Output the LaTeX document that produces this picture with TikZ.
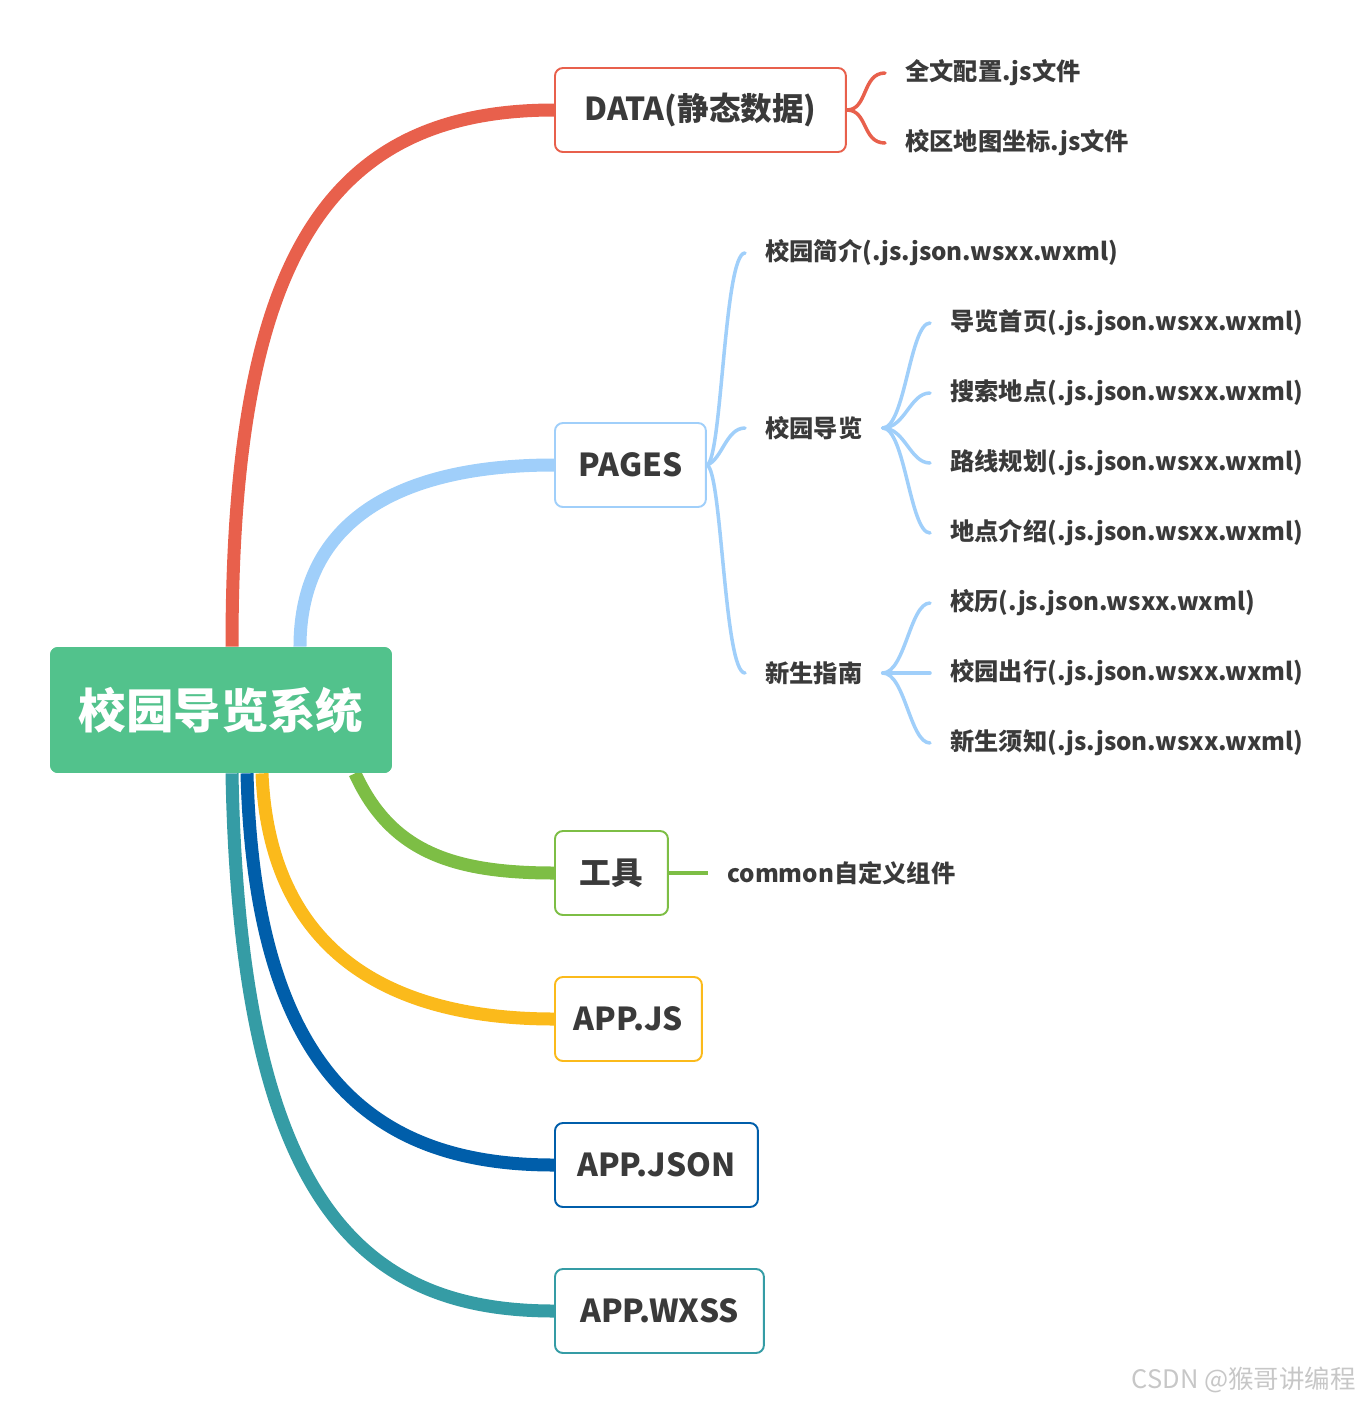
\documentclass[tikz,border=0pt]{standalone}
\usepackage{fontspec}
\setmainfont{Noto Sans CJK SC}
\usetikzlibrary{positioning}
\definecolor{rootg}{RGB}{82,194,140}
\definecolor{redc}{RGB}{232,96,76}
\definecolor{bluel}{RGB}{160,207,250}
\definecolor{greenc}{RGB}{125,190,69}
\definecolor{yellowc}{RGB}{251,186,27}
\definecolor{blued}{RGB}{0,94,170}
\definecolor{tealc}{RGB}{53,156,165}
\definecolor{txt}{RGB}{58,58,58}
\tikzset{
  rootbox/.style={fill=rootg, rounded corners=4.5pt, minimum width=6.84cm, minimum height=2.52cm,
    text=white, font=\fontsize{27}{29}\selectfont\bfseries},
  box/.style={draw, line width=1.1pt, rounded corners=4.5pt, fill=white, minimum height=1.68cm,
    anchor=west, text=txt, font=\fontsize{18}{20}\selectfont\bfseries},
  leaf/.style={anchor=west, inner xsep=0.4cm, inner ysep=2pt, text=txt,
    font=\fontsize{13.8}{16}\selectfont\bfseries},
  trunk/.style={line width=7.4pt},
  twig/.style={line width=2pt, line cap=round},
}
\begin{document}
\begin{tikzpicture}[x=0.02cm,y=-0.02cm]
\useasboundingbox (0,0) rectangle (1363,1403);
%% boxes
\node[rootbox] (root) at (221,710) {};
\node[box, draw=redc, minimum width=5.82cm] (data) at (554,110) {DATA(静态数据)};
\node[box, draw=bluel, minimum width=3.02cm] (pages) at (554,465) {PAGES};
\node[box, draw=greenc, minimum width=2.26cm] (tool) at (554,873) {工具};
\node[box, draw=yellowc, minimum width=2.94cm] (appjs) at (554,1019) {APP.JS};
\node[box, draw=blued, minimum width=4.06cm] (appjson) at (554,1165) {APP.JSON};
\node[box, draw=tealc, minimum width=4.18cm] (appwxss) at (554,1311) {APP.WXSS};
%% main branches
\draw[trunk, redc] ([xshift=0.22cm]root.north) .. controls (232,270) and (320,110) .. (data.west);
\draw[trunk, bluel] ([xshift=1.58cm]root.north) .. controls (300,520) and (400,465) .. (pages.west);
\draw[trunk, greenc] ([xshift=2.68cm]root.south) .. controls (390,850) and (450,873) .. (tool.west);
\draw[trunk, yellowc] ([xshift=0.82cm]root.south) .. controls (270,960) and (400,1019) .. (appjs.west);
\draw[trunk, blued] ([xshift=0.52cm]root.south) .. controls (255,1080) and (380,1165) .. (appjson.west);
\draw[trunk, tealc] ([xshift=0.22cm]root.south) .. controls (240,1200) and (360,1311) .. (appwxss.west);
\node[rootbox] at (root) {校园导览系统};
%% DATA
\node[leaf] (cfg) at (885,73) {全文配置.js文件};
\node[leaf] (map) at (885,143) {校区地图坐标.js文件};
\draw[twig, redc] (data.east) .. controls (868,110) and (862,73) .. (cfg.west);
\draw[twig, redc] (data.east) .. controls (868,110) and (862,143) .. (map.west);
%% PAGES
\node[leaf] (intro) at (745,253) {校园简介(.js.json.wsxx.wxml)};
\node[leaf] (nav) at (745,428) {校园导览};
\node[leaf] (guide) at (745,673) {新生指南};
\draw[twig, bluel] (pages.east) .. controls (722,460) and (724,253) .. (intro.west);
\draw[twig, bluel] (pages.east) .. controls (722,460) and (726,428) .. (nav.west);
\draw[twig, bluel] (pages.east) .. controls (722,470) and (724,673) .. (guide.west);
\node[leaf] (home) at (930,323) {导览首页(.js.json.wsxx.wxml)};
\node[leaf] (search) at (930,393) {搜索地点(.js.json.wsxx.wxml)};
\node[leaf] (route) at (930,463) {路线规划(.js.json.wsxx.wxml)};
\node[leaf] (place) at (930,533) {地点介绍(.js.json.wsxx.wxml)};
\foreach \n/\y in {home/323,search/393,route/463,place/533}
  \draw[twig, bluel] (nav.east) .. controls (905,428) and (910,\y) .. (\n.west);
\node[leaf] (cal) at (930,603) {校历(.js.json.wsxx.wxml)};
\node[leaf] (travel) at (930,673) {校园出行(.js.json.wsxx.wxml)};
\node[leaf] (notice) at (930,743) {新生须知(.js.json.wsxx.wxml)};
\foreach \n/\y in {cal/603,travel/673,notice/743}
  \draw[twig, bluel] (guide.east) .. controls (905,673) and (910,\y) .. (\n.west);
%% tool
\node[leaf, inner xsep=0.38cm] (common) at (708,873) {common自定义组件};
\draw[twig, greenc, line width=2.2pt, line cap=butt] (tool.east) -- (common.west);
%% watermark
\node[anchor=east, text=black!22, font=\fontsize{14.5}{16}\selectfont] (mark) at (1362,1380) {CSDN @猴哥讲编程};
\end{tikzpicture}
\end{document}
